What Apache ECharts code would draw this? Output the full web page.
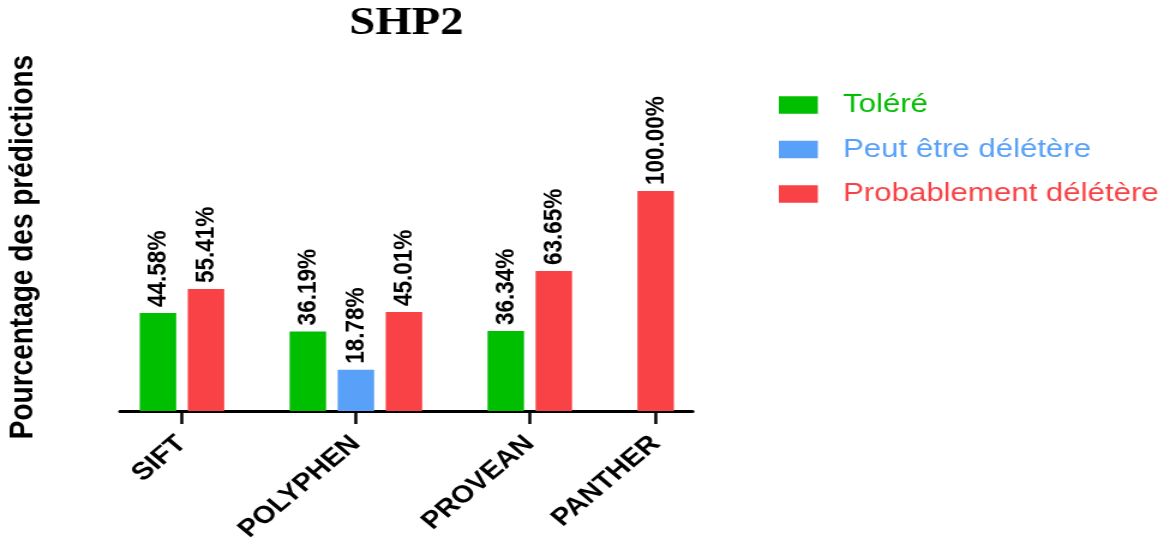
<!DOCTYPE html>
<html>
<head>
<meta charset="utf-8">
<script src="https://cdn.jsdelivr.net/npm/echarts@6/dist/echarts.min.js"></script>
<style>
  html, body { margin: 0; padding: 0; background: #fff; overflow: hidden; }
  /* the reference is stretched sideways, so draw narrower and widen it */
  #chart { width: 977.5px; height: 550px; transform: scaleX(1.2); transform-origin: 0 0; }
</style>
</head>
<body>
<div id="chart"></div>
<script>
const tools = ['SIFT', 'POLYPHEN', 'PROVEAN', 'PANTHER'];
const seriesNames = ['Toléré', 'Peut être délétère', 'Probablement délétère'];
const tolere = [44.58, 36.19, 36.34, null];
const peutEtre = [null, 18.78, null, null];
const probablement = [55.41, 45.01, 63.65, 100.00];
const colors = ['#00be00', '#58a0f8', '#f84245'];

// bars sit next to each other in a group, a missing one takes no room
const groupGap = 1.12;
const values = [tolere, peutEtre, probablement];
const seriesData = values.map(() => []);
const groupCenters = [];
let pos = 0;
tools.forEach((t, i) => {
  const start = pos;
  values.forEach((arr, s) => {
    if (arr[i] != null) {
      seriesData[s].push([pos, arr[i]]);
      pos += 1;
    }
  });
  groupCenters.push((start + pos - 1) / 2);
  pos += groupGap;
});
const lastBar = pos - groupGap - 1;

const font = 'Liberation Sans, Arial, sans-serif';
const chart = echarts.init(document.getElementById('chart'));

const option = {
  animation: false,
  title: {
    text: 'SHP2',
    left: 286,
    top: -1,
    textStyle: { fontFamily: 'Liberation Serif, Times New Roman, serif', fontWeight: 'bold', fontSize: 39, color: '#000' }
  },
  legend: {
    orient: 'vertical',
    left: 644,
    top: 87,
    icon: 'rect',
    itemWidth: 32.5,
    itemHeight: 17.5,
    itemGap: 18.5,
    textStyle: { fontFamily: font, fontSize: 26, lineHeight: 26, padding: [0, 0, 0, 16] },
    data: seriesNames.map((n, i) => ({ name: n, textStyle: { color: colors[i] } }))
  },
  grid: { left: 100, right: 400.8, top: 191, bottom: 139 },
  graphic: [{
    type: 'text',
    x: 19,
    y: 247,
    rotation: Math.PI / 2,
    style: {
      text: 'Pourcentage des prédictions',
      font: 'bold 28px ' + font,
      fill: '#000',
      align: 'center',
      verticalAlign: 'middle'
    }
  }],
  xAxis: {
    type: 'value',
    min: -0.79,
    max: lastBar + 0.77,
    splitLine: { show: false },
    axisLine: { show: true, lineStyle: { color: '#000', width: 3 } },
    axisTick: { show: true, customValues: groupCenters, length: 13, lineStyle: { color: '#000', width: 2.5 } },
    axisLabel: {
      customValues: groupCenters,
      rotate: 45,
      margin: 29,
      color: '#000',
      fontFamily: font,
      fontWeight: 'bold',
      fontSize: 24.5,
      formatter: v => {
        let best = 0;
        groupCenters.forEach((c, i) => { if (Math.abs(c - v) < Math.abs(groupCenters[best] - v)) best = i; });
        return tools[best];
      }
    }
  },
  yAxis: { type: 'value', min: 0, max: 100, show: false },
  series: seriesNames.map((n, s) => ({
    name: n,
    type: 'bar',
    data: seriesData[s],
    barWidth: 30.4,
    barGap: '-100%',
    itemStyle: { color: colors[s] },
    label: {
      show: true,
      position: 'top',
      rotate: 90,
      align: 'left',
      verticalAlign: 'middle',
      distance: 6,
      fontFamily: font,
      fontWeight: 'bold',
      fontSize: 22.5,
      color: '#000',
      formatter: p => p.value[1].toFixed(2) + '%'
    }
  }))
};

chart.setOption(option);
</script>
</body>
</html>
